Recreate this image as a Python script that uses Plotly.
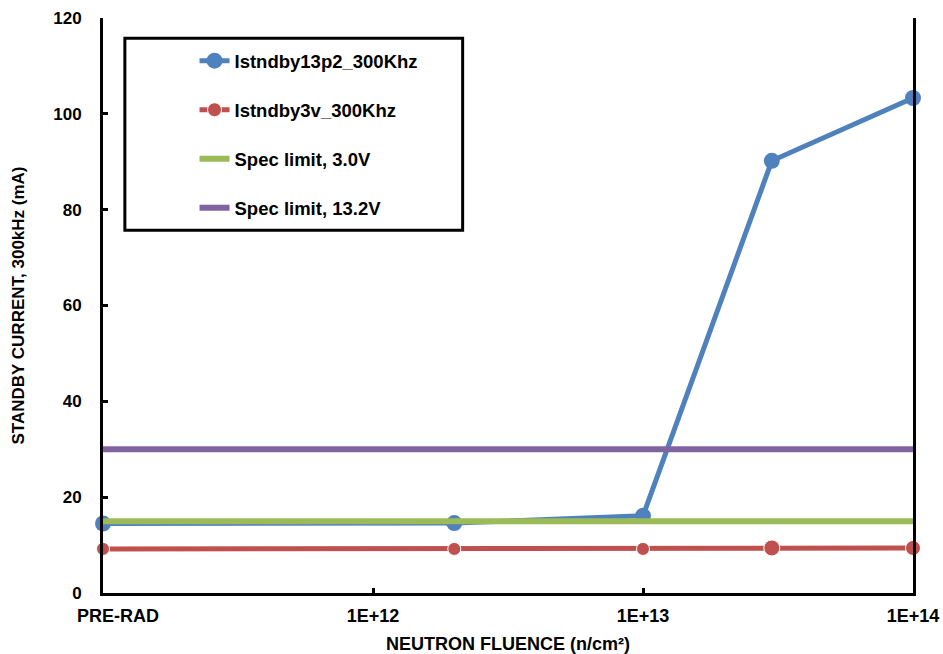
import plotly.graph_objects as go

fluence = [1e11, 2e12, 1e13, 3e13, 1e14]
istndby13p2 = [14.5, 14.6, 16.1, 90.2, 103.3]
istndby3v = [9.2, 9.2, 9.2, 9.4, 9.4]
spec_x = [1e11, 1e14]
spec_3v = [15.0, 15.0]
spec_13v = [30.0, 30.0]

x_tickvals = [1e11, 1e12, 1e13, 1e14]
x_ticktext = ["\u00a0" * 6 + "PRE-RAD", "1E+12", "1E+13", "1E+14"]
y_tickvals = [0, 20, 40, 60, 80, 100, 120]

FONT = "Liberation Sans, Arial, sans-serif"
FS = 17

fig = go.Figure()
fig.add_trace(go.Scatter(x=fluence, y=istndby13p2, mode="lines+markers",
                         name="Istndby13p2_300Khz", legendgroup="a",
                         line=dict(color="#4F81BD", width=5),
                         marker=dict(color="#4F81BD", size=16, opacity=1)))
fig.add_trace(go.Scatter(x=fluence, y=istndby3v, mode="lines+markers",
                         name="Istndby3v_300Khz", legendgroup="b",
                         line=dict(color="#C0504D", width=5),
                         marker=dict(color="#C0504D", size=[13, 13, 13, 16, 15], opacity=1)))
fig.add_trace(go.Scatter(x=spec_x, y=spec_3v, mode="lines",
                         name="Spec limit, 3.0V", legendgroup="c",
                         line=dict(color="#9BBB59", width=6)))
fig.add_trace(go.Scatter(x=spec_x, y=spec_13v, mode="lines",
                         name="Spec limit, 13.2V", legendgroup="d",
                         line=dict(color="#8064A2", width=6)))

fig.update_traces(cliponaxis=False)

fig.update_layout(
    width=943, height=654,
    margin=dict(l=103, r=30, t=18, b=61),
    paper_bgcolor="white", plot_bgcolor="white",
    font=dict(family=FONT, size=FS, color="black", weight="bold"),
    showlegend=True,
    legend=dict(x=0.113, y=0.958, xanchor="left", yanchor="top",
                bgcolor="rgba(0,0,0,0)", borderwidth=0,
                font=dict(family=FONT, size=18.5, color="black", weight="bold"),
                tracegroupgap=22, traceorder="grouped"),
    xaxis=dict(type="log", range=[11, 14], tickvals=x_tickvals, ticktext=x_ticktext,
               showgrid=False, zeroline=False, showline=True, linecolor="black",
               linewidth=3, ticks="inside", ticklen=5, tickwidth=3, tickcolor="black",
               ticklabelstandoff=4, automargin=False,
               tickfont=dict(family=FONT, size=18, weight="bold"),
               title=dict(text="NEUTRON FLUENCE (n/cm²)", standoff=14,
                          font=dict(family=FONT, size=18, weight="bold"))),
    yaxis=dict(range=[0, 120], tickvals=y_tickvals,
               showgrid=False, zeroline=False, showline=True, linecolor="black",
               linewidth=3, mirror=True, ticks="inside", ticklen=5, tickwidth=3,
               tickcolor="black", ticklabelstandoff=15, automargin=False,
               tickfont=dict(family=FONT, size=FS, weight="bold"),
               title=dict(text="STANDBY CURRENT, 300kHz (mA)", standoff=25,
                          font=dict(family=FONT, size=FS, weight="bold"))),
    shapes=[dict(type="rect", xref="paper", yref="paper",
                 x0=0.027, x1=0.444, y0=0.631, y1=0.965,
                 line=dict(color="black", width=3), fillcolor="rgba(0,0,0,0)")],
)

fig.write_html("out.html", config={"displayModeBar": False},
               post_script="document.body.style.margin='0';document.body.style.overflow='hidden';")
